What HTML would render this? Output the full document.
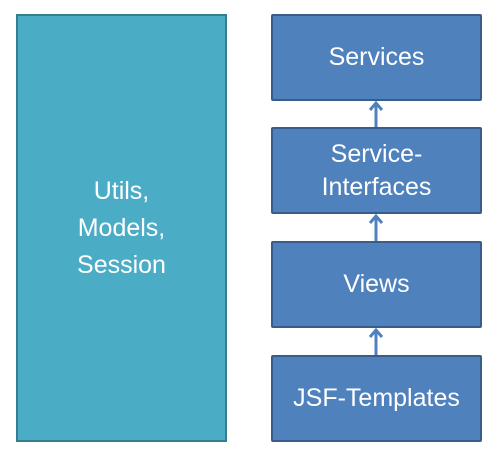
<!DOCTYPE html>
<html><head><style>
body{margin:0;width:498px;height:455px;background:#fff;overflow:hidden;position:relative;font-family:"Liberation Sans",sans-serif}
.b{position:absolute;box-sizing:border-box;display:flex;align-items:center;justify-content:center;text-align:center;color:#fff;font-size:25px;line-height:33px}
.r{left:271px;width:211px;height:87px;background:#4f81bd;border:2px solid #385d8a;border-radius:2px}
</style></head><body>
<div class="b" style="left:16px;top:14px;width:211px;height:428px;background:#4bacc6;border:2px solid #357d91;line-height:37px">Utils,<br>Models,<br>Session</div>
<div class="b r" style="top:14px">Services</div>
<div class="b r" style="top:127px">Service-<br>Interfaces</div>
<div class="b r" style="top:241px">Views</div>
<div class="b r" style="top:355px">JSF-Templates</div>
<svg width="498" height="455" style="position:absolute;left:0;top:0">
<g stroke="#4f81bd" stroke-width="3" fill="none">
<path d="M376 127V103M370 110L376 103L382 110"/>
<path d="M376 241V216M370 223L376 216L382 223"/>
<path d="M376 355V330M370 337L376 330L382 337"/>
</g></svg>
</body></html>
